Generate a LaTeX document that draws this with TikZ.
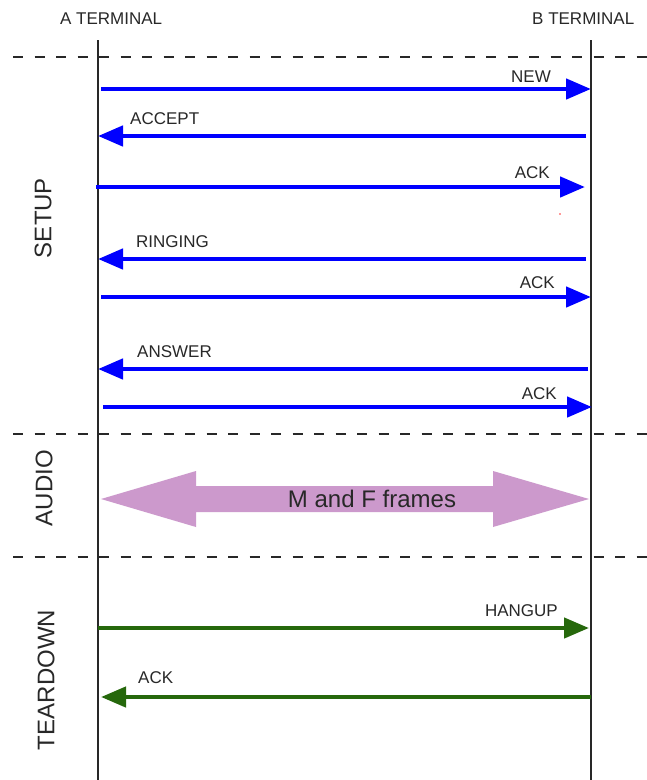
\documentclass[tikz,border=0pt]{standalone}
\usepackage{fontspec}
\setmainfont{Liberation Sans}
\usetikzlibrary{arrows.meta}
\definecolor{msgblue}{RGB}{0,0,255}
\definecolor{msggreen}{RGB}{38,104,12}
\definecolor{audiofill}{RGB}{204,153,204}
\definecolor{inkgray}{RGB}{40,40,40}
\tikzset{
  lifeline/.style={draw=inkgray, line width=1.4pt},
  phase/.style={draw=inkgray, line width=1.3pt, dash pattern=on 10pt off 11.5pt},
  setupmsg/.style={draw=msgblue, line width=4.6pt, -{Triangle[length=25pt,width=20pt]}},
  teardownmsg/.style={draw=msggreen, line width=4.4pt, -{Triangle[length=25pt,width=20pt]}},
  msglabel/.style={text=inkgray, inner sep=0pt, font=\fontsize{17}{20}\selectfont},
  heading/.style={text=inkgray, inner sep=0pt, font=\fontsize{17}{20}\selectfont},
  phaselabel/.style={text=inkgray, inner sep=0pt, rotate=90, font=\fontsize{24}{28}\selectfont},
}
\begin{document}
\begin{tikzpicture}[x=1pt,y=-1pt]
\useasboundingbox (0,0) rectangle (647,780);
\fill[white] (0,0) rectangle (647,780);

% terminal headings
\node[heading, anchor=base west] (ahead) at (60,24) {A TERMINAL};
\node[heading, anchor=base west] (bhead) at (532,24) {B TERMINAL};

% lifelines
\coordinate (atop) at (98,40);
\coordinate (abot) at (98,780);
\coordinate (btop) at (591,40);
\coordinate (bbot) at (591,780);
\draw[lifeline] (atop) -- (abot);
\draw[lifeline] (btop) -- (bbot);

% phase separators
\foreach \y/\n in {57/one,434/two,557/three}{
  \coordinate (sepl\n) at (13,\y);
  \coordinate (sepr\n) at (647,\y);
  \draw[phase] (sepl\n) -- (sepr\n);
}

% phase names
\node[phaselabel] (setup) at (43,218) {SETUP};
\node[phaselabel] (audio) at (44,488) {AUDIO};
\node[phaselabel] (teardown) at (46,680) {TEARDOWN};

% setup messages
\coordinate (newA) at (101,89);   \coordinate (newB) at (591,89);
\coordinate (accA) at (98,136);   \coordinate (accB) at (586,136);
\coordinate (ack1A) at (96,187);  \coordinate (ack1B) at (585,187);
\coordinate (ringA) at (98,259);  \coordinate (ringB) at (586,259);
\coordinate (ack2A) at (101,297); \coordinate (ack2B) at (591,297);
\coordinate (ansA) at (98,369);   \coordinate (ansB) at (588,369);
\coordinate (ack3A) at (103,407); \coordinate (ack3B) at (592,407);

\draw[setupmsg] (newA) -- (newB);
\draw[setupmsg] (accB) -- (accA);
\draw[setupmsg] (ack1A) -- (ack1B);
\draw[setupmsg] (ringB) -- (ringA);
\draw[setupmsg] (ack2A) -- (ack2B);
\draw[setupmsg] (ansB) -- (ansA);
\draw[setupmsg] (ack3A) -- (ack3B);

\node[msglabel, anchor=base east] (lnew) at (551,82) {NEW};
\node[msglabel, anchor=base west] (lacc) at (130,124) {ACCEPT};
\node[msglabel, anchor=base east] (lack1) at (550,178) {ACK};
\node[msglabel, anchor=base west] (lring) at (136,247) {RINGING};
\node[msglabel, anchor=base east] (lack2) at (555,288) {ACK};
\node[msglabel, anchor=base west] (lans) at (137,357) {ANSWER};
\node[msglabel, anchor=base east] (lack3) at (557,399) {ACK};

% stray mark
\fill[red!80] (560,214) circle (0.8pt);

% audio exchange
\fill[audiofill] (101,499) -- (196,471) -- (196,486) -- (493,486) -- (493,471)
  -- (589,499) -- (493,527) -- (493,512) -- (196,512) -- (196,527) -- cycle;
\node[text=inkgray, inner sep=0pt, font=\fontsize{24}{28}\selectfont] (frames) at (372,499) {M and F frames};

% teardown messages
\coordinate (hangA) at (98,628);  \coordinate (hangB) at (589,628);
\coordinate (ack4A) at (101,697); \coordinate (ack4B) at (591,697);
\draw[teardownmsg] (hangA) -- (hangB);
\draw[teardownmsg] (ack4B) -- (ack4A);
\node[msglabel, anchor=base east] (lhang) at (558,616) {HANGUP};
\node[msglabel, anchor=base west] (lack4) at (138,683) {ACK};
\end{tikzpicture}
\end{document}
